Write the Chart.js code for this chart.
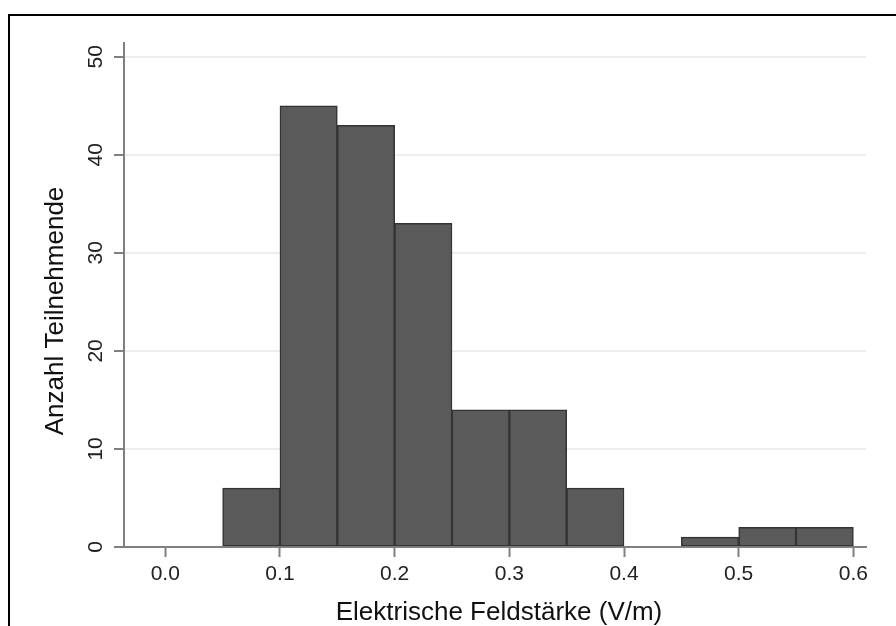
<!DOCTYPE html>
<html>
<head>
<meta charset="utf-8">
<script src="https://cdn.jsdelivr.net/npm/chart.js@4"></script>
<style>
    html, body { margin: 0; padding: 0; background: #fff; }
    #wrap { width: 896px; height: 626px; }
</style>
</head>
<body>
<div id="wrap"><canvas id="histChart" width="896" height="626"></canvas></div>
<script>
// ===== Data =====
const binStarts = [0.05, 0.10, 0.15, 0.20, 0.25, 0.30, 0.35, 0.40, 0.45, 0.50, 0.55];
const binWidth = 0.05;
const counts = [6, 45, 43, 33, 14, 14, 6, 0, 1, 2, 2];
const xTicks = [0.0, 0.1, 0.2, 0.3, 0.4, 0.5, 0.6];
const yTicks = [0, 10, 20, 30, 40, 50];
const xTitle = "Elektrische Feldstärke (V/m)";
const yTitle = "Anzahl Teilnehmende";

const FONT = "'Liberation Sans', Arial, sans-serif";
const axisGray = '#808080';

// ===== Frame + axis titles =====
const framePlugin = {
    id: 'frame',
    beforeDraw(chart) {
        const ctx = chart.ctx;
        ctx.save();
        ctx.fillStyle = '#fff';
        ctx.fillRect(0, 0, chart.width, chart.height);
        ctx.restore();
    },
    afterDraw(chart) {
        const ctx = chart.ctx;
        ctx.save();
        ctx.strokeStyle = '#000';
        ctx.lineWidth = 2;
        ctx.strokeRect(9, 15, 950, 700);

        ctx.fillStyle = '#111';
        ctx.font = `26px ${FONT}`;
        ctx.textAlign = 'center';
        ctx.textBaseline = 'alphabetic';
        const area = chart.chartArea;
        ctx.fillText(xTitle, (area.left + area.right) / 2 + 4, 620);

        ctx.translate(63, 311);
        ctx.rotate(-Math.PI / 2);
        ctx.fillText(yTitle, 0, 0);
        ctx.restore();
    }
};

const ctx = document.getElementById('histChart').getContext('2d');
new Chart(ctx, {
    type: 'bar',
    data: {
        datasets: [{
            data: binStarts.map((s, i) => ({ x: s + binWidth / 2, y: counts[i] })),
            backgroundColor: '#5a5a5a',
            borderColor: '#333333',
            borderWidth: 1.5,
            borderSkipped: false,
            barPercentage: 1,
            categoryPercentage: 1
        }]
    },
    options: {
        responsive: false,
        animation: false,
        layout: { padding: { top: 43, right: 30, left: 0, bottom: 0 } },
        plugins: { legend: { display: false }, tooltip: { enabled: false } },
        scales: {
            x: {
                type: 'linear',
                offset: false,
                min: -0.036,
                max: 0.611,
                afterBuildTicks: (scale) => { scale.ticks = xTicks.map(v => ({ value: v })); },
                afterFit: (scale) => { scale.height = 79; },
                grid: { offset: false, drawOnChartArea: false, drawTicks: true, tickLength: 10, tickColor: axisGray, tickWidth: 2 },
                border: { display: true, color: axisGray, width: 2 },
                ticks: {
                    maxRotation: 0, minRotation: 0, padding: 5,
                    color: '#222', font: { family: FONT, size: 21 },
                    callback: (v) => Number(v).toFixed(1)
                }
            },
            y: {
                min: 0,
                max: 51.4,
                afterBuildTicks: (scale) => { scale.ticks = yTicks.map(v => ({ value: v })); },
                afterFit: (scale) => { scale.width = 124; },
                grid: { color: '#e8f0f2', lineWidth: 2, drawTicks: true, tickLength: 10, tickColor: axisGray, tickWidth: 2 },
                border: { display: true, color: axisGray, width: 2 },
                ticks: {
                    minRotation: 90, maxRotation: 90, crossAlign: 'center', padding: 6,
                    color: '#222', font: { family: FONT, size: 21 },
                    callback: (v) => String(v)
                }
            }
        }
    },
    plugins: [framePlugin]
});
</script>
</body>
</html>
